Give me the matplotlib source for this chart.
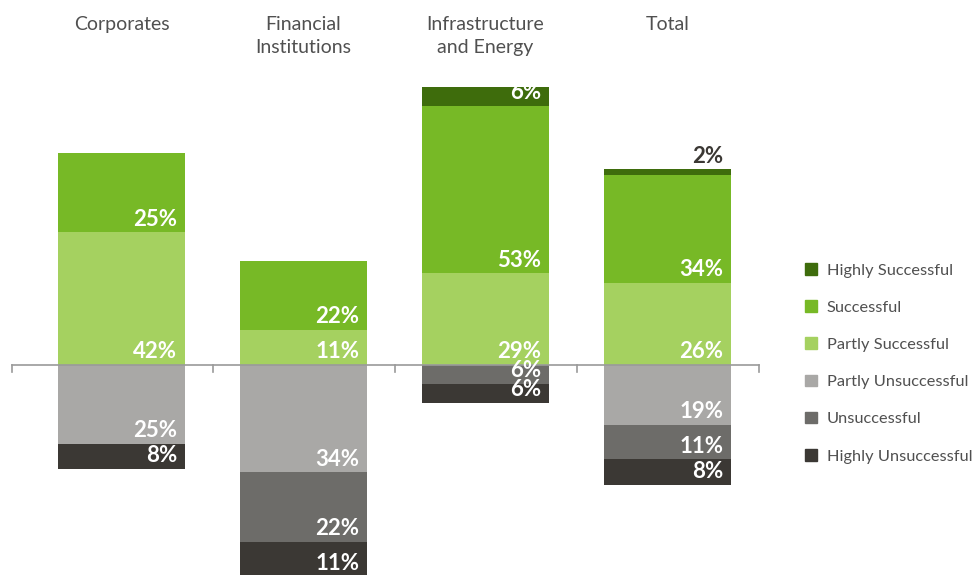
import matplotlib.pyplot as plt
from matplotlib.patches import Patch

plt.rcParams['font.family'] = ['Lato', 'DejaVu Sans']

categories = ["Corporates", "Financial\nInstitutions", "Infrastructure\nand Energy", "Total"]
highly_successful = [0, 0, 6, 2]
successful = [25, 22, 53, 34]
partly_successful = [42, 11, 29, 26]
partly_unsuccessful = [25, 34, 0, 19]
unsuccessful = [0, 22, 6, 11]
highly_unsuccessful = [8, 11, 6, 8]

pos_series = [
    ("Partly Successful", partly_successful, "#a5d160"),
    ("Successful", successful, "#77b926"),
    ("Highly Successful", highly_successful, "#3e6c0c"),
]
neg_series = [
    ("Partly Unsuccessful", partly_unsuccessful, "#a9a8a6"),
    ("Unsuccessful", unsuccessful, "#6d6c69"),
    ("Highly Unsuccessful", highly_unsuccessful, "#3b3834"),
]

fig = plt.figure(figsize=(9.77, 5.75), dpi=100)
ax = fig.add_axes([0, 0, 1, 1])
ax.set_xlim(-0.668, 4.70)
ax.set_ylim(-66.6, 115.5)
ax.axis("off")

x = list(range(len(categories)))
width = 0.70
text_dark = "#3b3834"


def label(xi, y, val, color="white"):
    ax.text(xi + width / 2 - 0.045, y, f"{val}%", ha="right", va="bottom",
            fontsize=16, fontweight="bold", color=color, zorder=5)


# positive side, stacked upward from the axis
base = [0] * len(x)
for name, vals, col in pos_series:
    ax.bar(x, vals, width, bottom=base, color=col, zorder=2)
    for i, v in enumerate(vals):
        if v == 0:
            continue
        if v < 4:
            label(x[i], base[i] + v + 0.5, v, color=text_dark)
        else:
            label(x[i], base[i] + 0.8, v)
    base = [b + v for b, v in zip(base, vals)]

# negative side, stacked downward
base = [0] * len(x)
for name, vals, col in neg_series:
    ax.bar(x, [-v for v in vals], width, bottom=base, color=col, zorder=2)
    for i, v in enumerate(vals):
        if v == 0:
            continue
        label(x[i], base[i] - v + 0.8, v)
    base = [b - v for b, v in zip(base, vals)]

# baseline with small ticks between the groups
ticks = [-0.6, 0.5, 1.5, 2.5, 3.5]
ax.plot([ticks[0], ticks[-1]], [0, 0], color="#9a9a9a", lw=1.2, zorder=4)
for t in ticks:
    ax.plot([t, t], [0, -2.4], color="#9a9a9a", lw=1.2, zorder=4)

for xi, name in zip(x, categories):
    ax.text(xi, 1 - 16 / 575, name, ha="center", va="top", fontsize=14,
            color="#505050", linespacing=1.45, transform=ax.get_xaxis_transform())

handles = [Patch(color=c) for _, _, c in pos_series[::-1] + neg_series]
names = [n for n, _, _ in pos_series[::-1] + neg_series]
ax.legend(handles, names, loc="upper left", bbox_to_anchor=(805 / 977, 1 - 263 / 575),
          bbox_transform=fig.transFigure, frameon=False, fontsize=11.8,
          labelspacing=1.38, handlelength=0.72, handleheight=0.72,
          handletextpad=0.62, borderpad=0, borderaxespad=0, labelcolor="#505050")

fig.savefig("out.png", dpi=100)
